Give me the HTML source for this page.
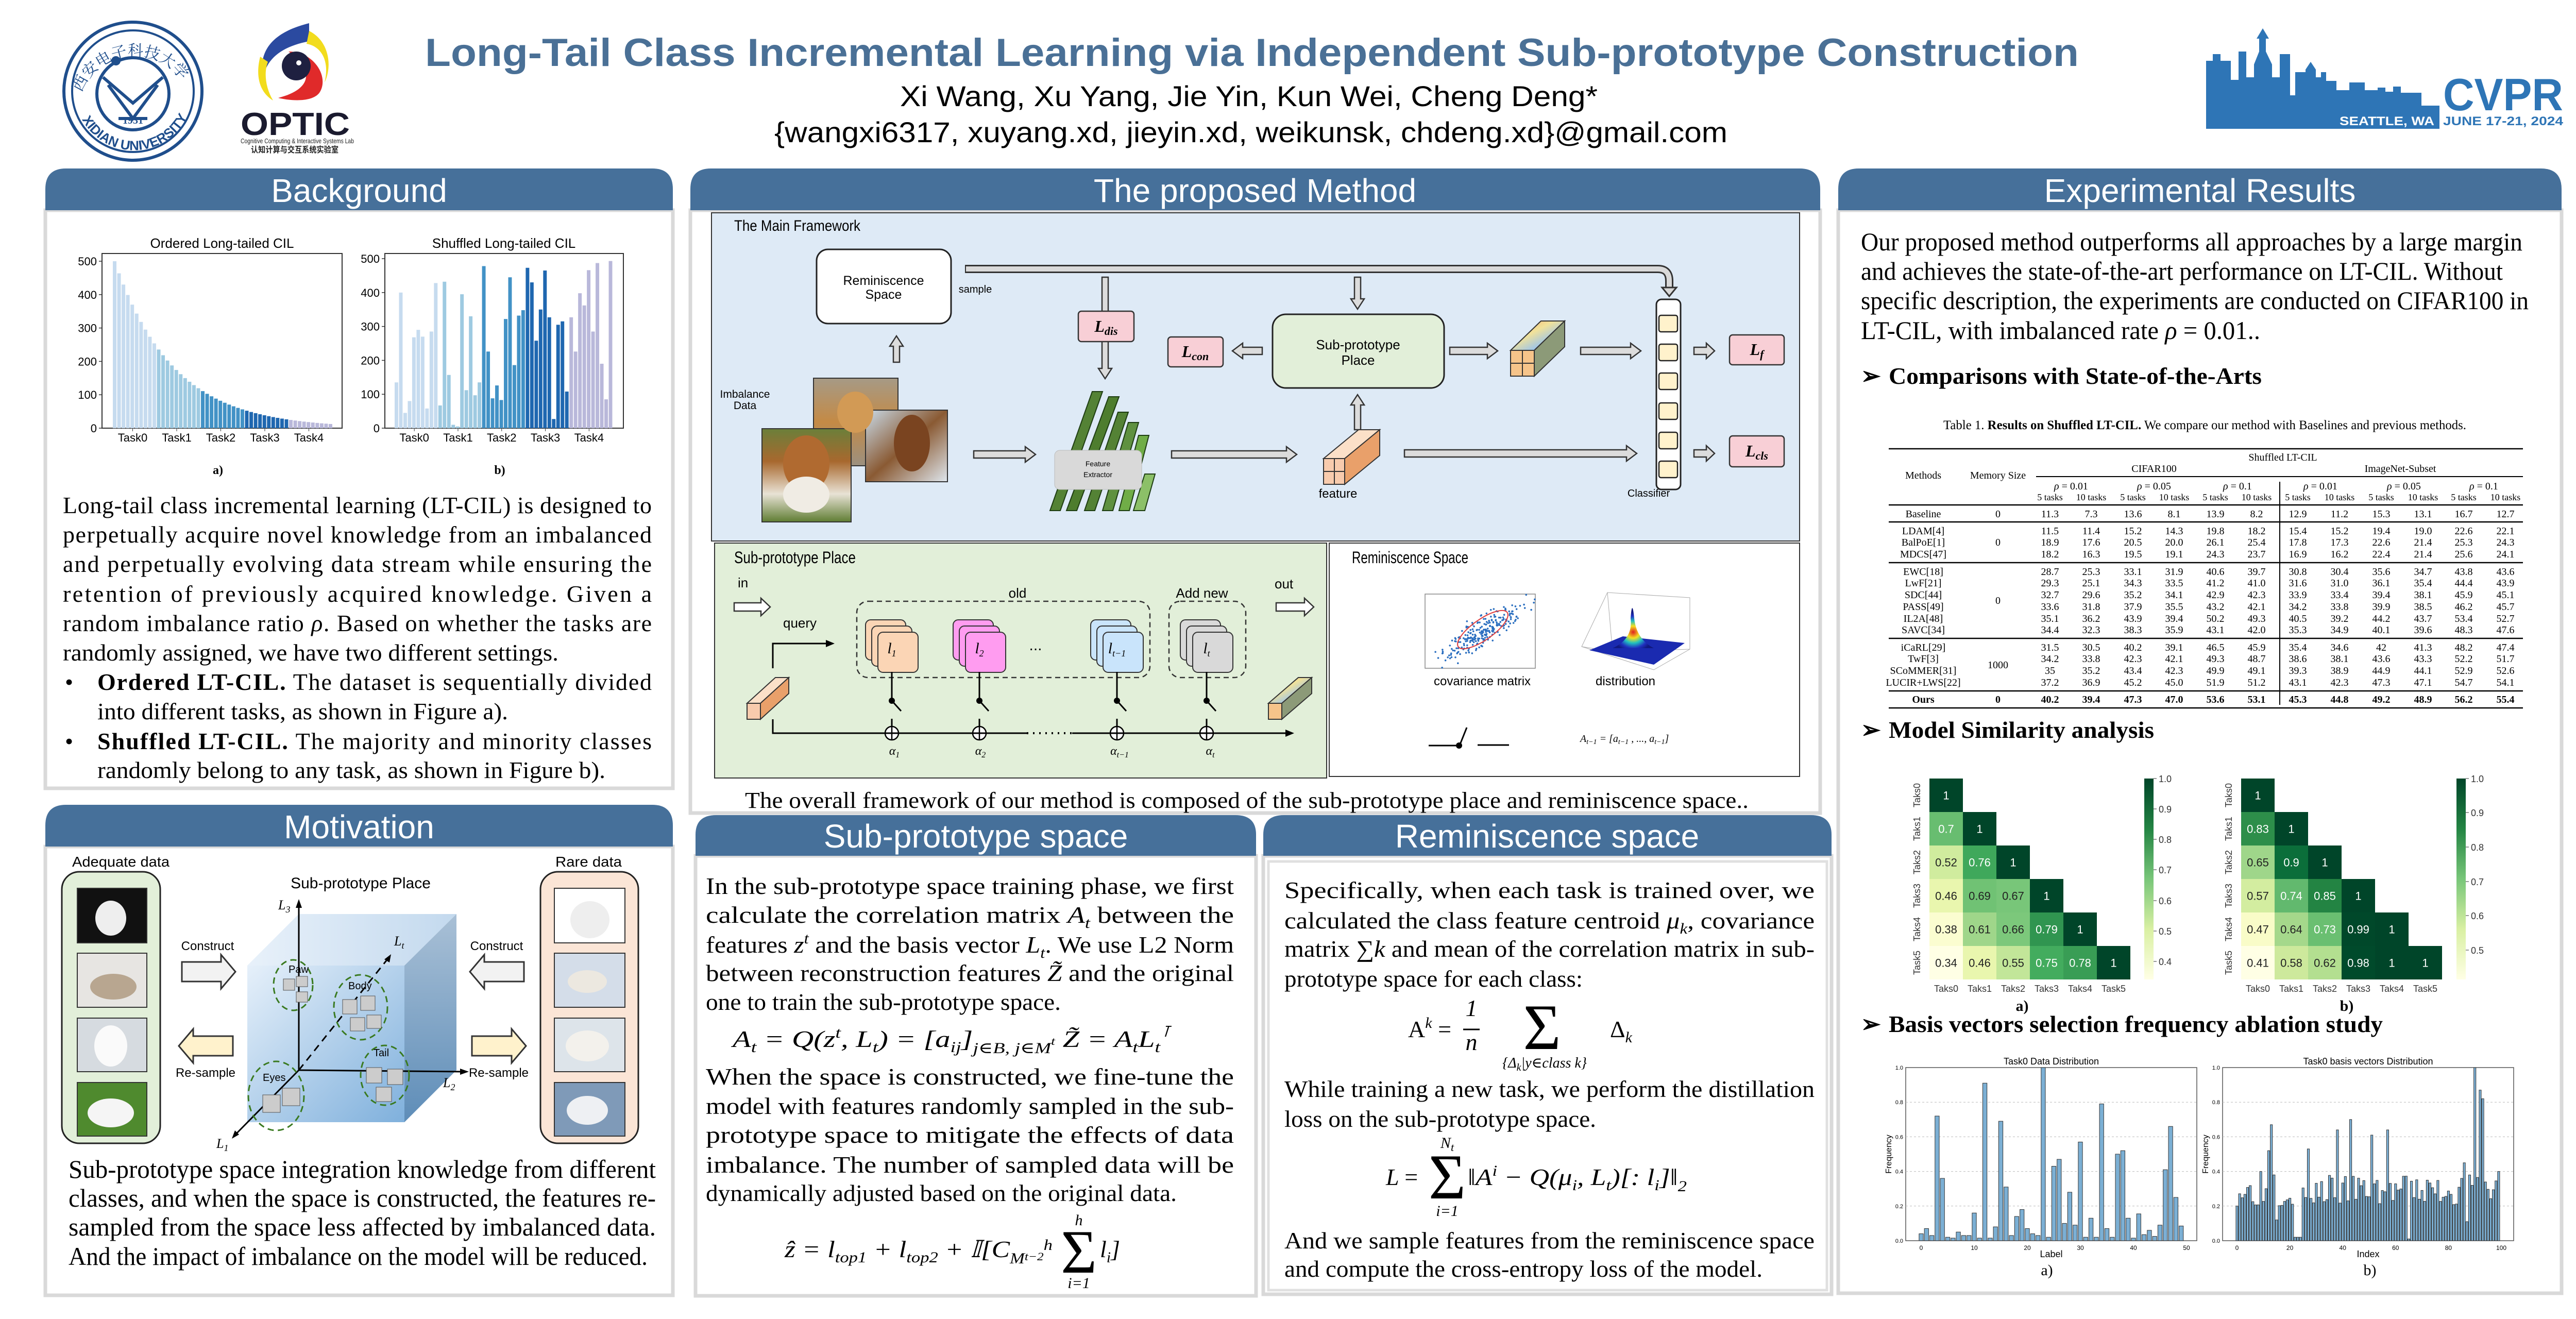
<!DOCTYPE html>
<html><head><meta charset="utf-8"><style>
html,body{margin:0;padding:0;background:#fff;width:5120px;height:2560px;overflow:hidden}
svg{display:block}
.hd{font-family:"Liberation Sans","DejaVu Sans",sans-serif;fill:#fff;font-size:64px;text-anchor:middle}
.tm{font-family:"Liberation Serif","DejaVu Serif",serif;fill:#000}
.sn{font-family:"Liberation Sans","DejaVu Sans",sans-serif;fill:#000}
.it{font-style:italic}
</style></head><body>
<svg id="s" xmlns="http://www.w3.org/2000/svg" width="5120" height="2560" viewBox="0 0 5120 2560">
<defs>
<linearGradient id="cubeF" x1="0" y1="0" x2="1" y2="1"><stop offset="0" stop-color="#e6f0fa"/><stop offset="1" stop-color="#7fb0dc"/></linearGradient>
<linearGradient id="cubeT" x1="0" y1="0" x2="1" y2="0"><stop offset="0" stop-color="#e8f1fa"/><stop offset="1" stop-color="#c3d9ee"/></linearGradient>
<linearGradient id="cubeR" x1="0" y1="0" x2="0" y2="1"><stop offset="0" stop-color="#a9c0d6"/><stop offset="1" stop-color="#5e8db8"/></linearGradient>
<linearGradient id="rainbow" x1="0" y1="0" x2="1" y2="1"><stop offset="0" stop-color="#f4a261"/><stop offset=".4" stop-color="#f1e29a"/><stop offset=".7" stop-color="#9fc5e8"/><stop offset="1" stop-color="#7f8fa6"/></linearGradient>
<linearGradient id="dog1" x1="0" y1="0" x2="0" y2="1"><stop offset="0" stop-color="#a69a86"/><stop offset=".5" stop-color="#c48a45"/><stop offset="1" stop-color="#9b9080"/></linearGradient>
<linearGradient id="horse" x1="0" y1="0" x2="1" y2="1"><stop offset="0" stop-color="#c9dbe9"/><stop offset=".5" stop-color="#8a5a33"/><stop offset="1" stop-color="#dfe7ee"/></linearGradient>
<linearGradient id="beagle" x1="0" y1="0" x2="0" y2="1"><stop offset="0" stop-color="#6b7f3a"/><stop offset=".35" stop-color="#a8682e"/><stop offset=".7" stop-color="#e8e2d5"/><stop offset="1" stop-color="#5f7d32"/></linearGradient>
<radialGradient id="peak" cx=".5" cy=".6" r=".5"><stop offset="0" stop-color="#e02020"/><stop offset=".3" stop-color="#f5e020"/><stop offset=".55" stop-color="#20c0c0"/><stop offset=".8" stop-color="#2030c0"/><stop offset="1" stop-color="#101880"/></radialGradient>
<linearGradient id="cbA" x1="0" y1="1" x2="0" y2="0"><stop offset="0" stop-color="#ffffe5"/><stop offset=".25" stop-color="#d9f0a3"/><stop offset=".5" stop-color="#78c679"/><stop offset=".75" stop-color="#238443"/><stop offset="1" stop-color="#004529"/></linearGradient>
</defs>
<rect width="5120" height="2560" fill="#fff"/>

<!-- Xidian logo -->
<g fill="none" stroke="#1f4e8c">
<circle cx="258" cy="177" r="134" stroke-width="6"/>
<circle cx="258" cy="177" r="118" stroke-width="4"/>
<circle cx="258" cy="182" r="70" stroke-width="6"/>
<path d="M200 150 L258 200 L316 150 M210 165 L258 230 L306 165 M230 230 L286 230" stroke-width="6"/>
</g>
<circle cx="225" cy="118" r="9" fill="#1f4e8c"/>
<text x="258" y="240" font-family="Liberation Serif,serif" font-weight="bold" font-size="20" fill="#1f4e8c" text-anchor="middle">1931</text>
<path id="arcB" d="M150 210 A115 115 0 0 0 370 210" fill="none"/>
<text font-family="Liberation Sans,sans-serif" font-size="26" fill="#1f4e8c" font-weight="bold"><textPath href="#arcB" startOffset="8%">XIDIAN UNIVERSITY</textPath></text>
<path id="arcT" d="M155 190 A110 110 0 0 1 360 170" fill="none"/>
<text font-family="'Noto Serif CJK SC',serif" font-size="30" fill="#1f4e8c"><textPath href="#arcT" startOffset="4%">西安电子科技大学</textPath></text>

<!-- OPTIC logo -->
<path d="M600 45 C540 60 500 90 510 150 C520 110 550 90 600 80 Z" fill="#2b4aa0"/>
<path d="M505 110 C495 150 505 180 530 195 C515 170 512 140 520 120 Z" fill="#f2dc1d"/>
<path d="M560 100 C610 100 640 150 620 180 C605 200 560 195 540 190 C600 175 615 140 560 100Z" fill="#e02a2a"/>
<path d="M600 60 C640 80 645 130 630 160 C640 120 625 90 595 85Z" fill="#f2dc1d"/>
<circle cx="575" cy="128" r="28" fill="#1e2040"/><circle cx="580" cy="122" r="5" fill="#fff"/>
<text x="467" y="262" font-family="Liberation Sans,sans-serif" font-weight="bold" font-size="62" fill="#1a1a2e" textLength="212" lengthAdjust="spacingAndGlyphs">OPTIC</text>
<text x="467" y="278" font-family="Liberation Sans,sans-serif" font-size="13" fill="#222" textLength="220" lengthAdjust="spacingAndGlyphs">Cognitive Computing &amp; Interactive Systems Lab</text>
<text x="487" y="296" font-family="'Noto Sans CJK SC',sans-serif" font-weight="bold" font-size="16" fill="#222" textLength="170" lengthAdjust="spacingAndGlyphs">认知计算与交互系统实验室</text>

<!-- CVPR logo -->
<g fill="#2e75b6">
<path d="M4282 250 V118 H4295 V105 H4310 V118 H4330 V155 H4345 V100 H4360 V150 H4375 V125 L4385 100 V75 H4380 L4392 55 L4404 75 H4398 V100 L4410 125 V150 H4425 V105 H4445 V185 H4455 V140 H4475 V135 L4485 120 L4495 135 V150 H4505 V140 H4515 V157 H4535 V175 H4560 V160 H4590 V175 H4615 V170 H4630 V178 H4645 V168 H4660 V180 H4700 V205 H4735 V250 Z"/>
<text x="4742" y="214" font-family="Liberation Sans,sans-serif" font-weight="bold" font-size="88" textLength="233" lengthAdjust="spacingAndGlyphs">CVPR</text>
<text x="4742" y="243" font-family="Liberation Sans,sans-serif" font-weight="bold" font-size="24" textLength="233" lengthAdjust="spacingAndGlyphs">JUNE 17-21, 2024</text>
</g>
<text x="4541" y="243" font-family="Liberation Sans,sans-serif" font-weight="bold" font-size="24" fill="#fff" textLength="184" lengthAdjust="spacingAndGlyphs">SEATTLE, WA</text>

<!-- Title -->
<text x="2430" y="128" text-anchor="middle" font-family="Liberation Sans,sans-serif" font-weight="bold" font-size="76" fill="#4a7096" textLength="3210" lengthAdjust="spacingAndGlyphs">Long-Tail Class Incremental Learning via Independent Sub-prototype Construction</text>
<text x="2424" y="206" text-anchor="middle" font-family="Liberation Sans,sans-serif" font-size="56" fill="#000" textLength="1354" lengthAdjust="spacingAndGlyphs">Xi Wang, Xu Yang, Jie Yin, Kun Wei, Cheng Deng*</text>
<text x="2428" y="276" text-anchor="middle" font-family="Liberation Sans,sans-serif" font-size="56" fill="#000" textLength="1850" lengthAdjust="spacingAndGlyphs">{wangxi6317, xuyang.xd, jieyin.xd, weikunsk, chdeng.xd}@gmail.com</text>

<!-- Panels -->
<g fill="#fff" stroke="#d9d9d9" stroke-width="7">
<rect x="88" y="408" width="1218" height="1122"/>
<rect x="88" y="1643" width="1218" height="871"/>
<rect x="1340" y="408" width="2193" height="1170"/>
<rect x="1350" y="1661" width="1088" height="854"/>
<rect x="2452" y="1661" width="1103" height="851"/>
<rect x="3568" y="408" width="1404" height="2102"/>
</g>
<rect x="2462" y="1672" width="1084" height="832" fill="none" stroke="#e0e0e0" stroke-width="5"/>
<g fill="#46709a">
<path d="M88 408 V367 Q88 327 128 327 H1266 Q1306 327 1306 367 V408 Z"/>
<path d="M1340 408 V367 Q1340 327 1380 327 H3493 Q3533 327 3533 367 V408 Z"/>
<path d="M3568 408 V367 Q3568 327 3608 327 H4932 Q4972 327 4972 367 V408 Z"/>
<path d="M88 1643 V1602 Q88 1562 128 1562 H1266 Q1306 1562 1306 1602 V1643 Z"/>
<path d="M1350 1661 V1620 Q1350 1582 1390 1582 H2398 Q2438 1582 2438 1620 V1661 Z"/>
<path d="M2452 1661 V1620 Q2452 1582 2492 1582 H3515 Q3555 1582 3555 1620 V1661 Z"/>
</g>
<text class="hd" x="697" y="392">Background</text>
<text class="hd" x="2436" y="392">The proposed Method</text>
<text class="hd" x="4270" y="392">Experimental Results</text>
<text class="hd" x="697" y="1627">Motivation</text>
<text class="hd" x="1894" y="1645">Sub-prototype space</text>
<text class="hd" x="3003" y="1645">Reminiscence space</text>

<!-- Background charts -->
<g class="sn" font-size="26">
<text x="431" y="481" text-anchor="middle">Ordered Long-tailed CIL</text>
<text x="978" y="481" text-anchor="middle">Shuffled Long-tailed CIL</text>
</g>
<rect x="198" y="492" width="466" height="339" fill="none" stroke="#333" stroke-width="2"/>
<rect x="747" y="492" width="463" height="339" fill="none" stroke="#333" stroke-width="2"/>
<g id="bgc"></g>
<text class="tm" x="423" y="920" font-weight="bold" font-size="24" text-anchor="middle">a)</text>
<text class="tm" x="970" y="920" font-weight="bold" font-size="24" text-anchor="middle">b)</text>

<g class="tm" font-size="46">
<text x="122" y="996" textLength="1143" lengthAdjust="spacing">Long-tail class incremental learning (LT-CIL) is designed to</text>
<text x="122" y="1053" textLength="1143" lengthAdjust="spacing">perpetually acquire novel knowledge from an imbalanced</text>
<text x="122" y="1110" textLength="1143" lengthAdjust="spacing">and perpetually evolving data stream while ensuring the</text>
<text x="122" y="1168" textLength="1143" lengthAdjust="spacing">retention of previously acquired knowledge. Given a</text>
<text x="122" y="1225" textLength="1143" lengthAdjust="spacing">random imbalance ratio <tspan class="it">ρ</tspan>. Based on whether the tasks are</text>
<text x="122" y="1282" textLength="962" lengthAdjust="spacingAndGlyphs">randomly assigned, we have two different settings.</text>
<text x="126" y="1339">•</text><text x="189" y="1339" textLength="1076" lengthAdjust="spacing"><tspan font-weight="bold">Ordered LT-CIL.</tspan> The dataset is sequentially divided</text>
<text x="189" y="1396" textLength="797" lengthAdjust="spacingAndGlyphs">into different tasks, as shown in Figure a).</text>
<text x="126" y="1454">•</text><text x="189" y="1454" textLength="1076" lengthAdjust="spacing"><tspan font-weight="bold">Shuffled LT-CIL.</tspan>  The majority and minority classes</text>
<text x="189" y="1510" textLength="986" lengthAdjust="spacingAndGlyphs">randomly belong to any task, as shown in Figure b).</text>
</g>

<!-- Motivation -->
<g font-family="Liberation Sans,sans-serif" font-size="28" fill="#000">
<text x="140" y="1682" textLength="189" lengthAdjust="spacingAndGlyphs">Adequate data</text>
<text x="1078" y="1682" textLength="129" lengthAdjust="spacingAndGlyphs">Rare data</text>
<text x="700" y="1724" text-anchor="middle" font-size="30">Sub-prototype Place</text>
<text x="403" y="1844" text-anchor="middle" font-size="24">Construct</text>
<text x="964" y="1844" text-anchor="middle" font-size="24">Construct</text>
<text x="399" y="2090" text-anchor="middle" font-size="24">Re-sample</text>
<text x="968" y="2090" text-anchor="middle" font-size="24">Re-sample</text>
</g>
<rect x="120" y="1692" width="191" height="527" rx="34" fill="#e2efd9" stroke="#222" stroke-width="3"/>
<rect x="1049" y="1692" width="190" height="527" rx="34" fill="#fbe5d6" stroke="#222" stroke-width="3"/>
<rect x="150" y="1724" width="135" height="106" fill="#111" stroke="#333" stroke-width="2"/><ellipse cx="215" cy="1782" rx="30" ry="34" fill="#eee"/>
<rect x="150" y="1850" width="135" height="105" fill="#e7e5e2" stroke="#333" stroke-width="2"/><ellipse cx="220" cy="1915" rx="45" ry="25" fill="#b8a690"/>
<rect x="150" y="1976" width="135" height="104" fill="#d6dbe0" stroke="#333" stroke-width="2"/><ellipse cx="215" cy="2030" rx="32" ry="40" fill="#fafafa"/>
<rect x="150" y="2101" width="135" height="104" fill="#4f8a2e" stroke="#333" stroke-width="2"/><ellipse cx="215" cy="2160" rx="45" ry="28" fill="#f5f5f5"/>
<rect x="1076" y="1724" width="137" height="106" fill="#fff" stroke="#333" stroke-width="2"/><ellipse cx="1145" cy="1785" rx="38" ry="36" fill="#eee"/>
<rect x="1076" y="1850" width="137" height="105" fill="#d4dde9" stroke="#333" stroke-width="2"/><ellipse cx="1140" cy="1905" rx="38" ry="22" fill="#ece8e0"/>
<rect x="1076" y="1976" width="137" height="104" fill="#dde4ea" stroke="#333" stroke-width="2"/><ellipse cx="1140" cy="2030" rx="42" ry="30" fill="#f3f1ec"/>
<rect x="1076" y="2101" width="137" height="104" fill="#7f9ab8" stroke="#333" stroke-width="2"/><ellipse cx="1140" cy="2155" rx="40" ry="28" fill="#eef0f3"/>
<!-- cube -->
<polygon points="480,1874 580,1774 886,1774 785,1874" fill="url(#cubeT)"/>
<polygon points="785,1874 886,1774 886,2077 785,2178" fill="url(#cubeR)"/>
<rect x="480" y="1874" width="305" height="304" fill="url(#cubeF)"/>
<g stroke="#000" stroke-width="3" fill="none">
<line x1="580" y1="2077" x2="580" y2="1755"/><line x1="580" y1="2077" x2="900" y2="2080"/><line x1="580" y1="2077" x2="456" y2="2203"/>
<line x1="580" y1="2077" x2="755" y2="1858" stroke-dasharray="14,10"/>
</g>
<g fill="#000"><polygon points="580,1745 574,1762 586,1762"/><polygon points="910,2080 893,2074 893,2086"/><polygon points="450,2210 456,2194 464,2202"/><polygon points="759,1852 746,1862 756,1868"/></g>
<g class="tm it" font-size="26"><text x="540" y="1765">L<tspan font-size="18" dy="6">3</tspan></text><text x="765" y="1835">L<tspan font-size="18" dy="6">t</tspan></text><text x="860" y="2110">L<tspan font-size="18" dy="6">2</tspan></text><text x="420" y="2228">L<tspan font-size="18" dy="6">1</tspan></text></g>
<g fill="none" stroke="#3a7a20" stroke-width="3" stroke-dasharray="12,8">
<ellipse cx="569" cy="1912" rx="38" ry="49"/><ellipse cx="700" cy="1955" rx="52" ry="63"/><ellipse cx="536" cy="2127" rx="54" ry="67"/><ellipse cx="747" cy="2087" rx="47" ry="58"/>
</g>
<g fill="#ccc" stroke="#555"><rect x="550" y="1900" width="22" height="22"/><rect x="575" y="1895" width="22" height="20"/><rect x="575" y="1925" width="22" height="20"/><rect x="665" y="1940" width="28" height="28"/><rect x="700" y="1933" width="28" height="28"/><rect x="680" y="1975" width="28" height="26"/><rect x="712" y="1970" width="28" height="26"/><rect x="510" y="2125" width="34" height="34"/><rect x="548" y="2112" width="34" height="34"/><rect x="711" y="2072" width="30" height="30"/><rect x="752" y="2075" width="30" height="30"/><rect x="730" y="2110" width="30" height="28"/></g>
<g font-family="Liberation Sans,sans-serif" font-size="20" fill="#000"><text x="560" y="1888">Paw</text><text x="676" y="1920">Body</text><text x="510" y="2098">Eyes</text><text x="725" y="2050">Tail</text></g>
<g id="motarrows"></g>
<g class="tm" font-size="50">
<text x="133" y="2286" textLength="1140" lengthAdjust="spacingAndGlyphs">Sub-prototype space integration knowledge from different</text>
<text x="133" y="2342" textLength="1140" lengthAdjust="spacingAndGlyphs">classes, and when the space is constructed, the features re-</text>
<text x="133" y="2398" textLength="1140" lengthAdjust="spacingAndGlyphs">sampled from the space less affected by imbalanced data.</text>
<text x="133" y="2455" textLength="1124" lengthAdjust="spacingAndGlyphs">And the impact of imbalance on the model will be reduced.</text>
</g>

<!-- Method: main framework -->
<rect x="1381" y="413" width="2112" height="637" fill="#deeaf6" stroke="#333" stroke-width="2"/>
<rect x="1387" y="1054" width="1188" height="456" fill="#e2efd9" stroke="#333" stroke-width="2"/>
<rect x="2580" y="1054" width="913" height="453" fill="#fff" stroke="#333" stroke-width="2"/>
<g font-family="Liberation Sans,sans-serif" fill="#000">
<text x="1425" y="448" font-size="30" textLength="245" lengthAdjust="spacingAndGlyphs">The Main Framework</text>
<text x="1425" y="1093" font-size="32" textLength="236" lengthAdjust="spacingAndGlyphs">Sub-prototype Place</text>
<text x="2624" y="1093" font-size="32" textLength="226" lengthAdjust="spacingAndGlyphs">Reminiscence Space</text>
</g>
<g id="fwarrows"></g>
<rect x="1585" y="484" width="261" height="144" rx="22" fill="#fff" stroke="#222" stroke-width="3"/>
<rect x="2470" y="610" width="333" height="143" rx="26" fill="#e2efd9" stroke="#222" stroke-width="3"/>
<g font-family="Liberation Sans,sans-serif" font-size="25" fill="#000" text-anchor="middle">
<text x="1715" y="553">Reminiscence</text><text x="1715" y="580">Space</text>
<text x="1893" y="568" font-size="20">sample</text>
<text x="1446" y="772" font-size="21">Imbalance</text><text x="1446" y="794" font-size="21">Data</text>
<text x="2636" y="678" font-size="26">Sub-prototype</text><text x="2636" y="708" font-size="26">Place</text>
<text x="2597" y="966" font-size="24">feature</text>
<text x="3200" y="964" font-size="20">Classifier</text>
</g>
<!-- top bent arrow -->
<path d="M1873 522 H3218 Q3240 522 3240 545 V560" fill="none" stroke="#333" stroke-width="16"/>
<path d="M1875 522 H3218 Q3240 522 3240 545 V562" fill="none" stroke="#d9d9d9" stroke-width="10"/>
<polygon points="3226,558 3254,558 3240,575" fill="#d9d9d9" stroke="#333" stroke-width="3"/>
<!-- loss boxes -->
<g fill="#f8cfd6" stroke="#333" stroke-width="2.5">
<rect x="2093" y="604" width="108" height="59" rx="6"/><rect x="2267" y="654" width="107" height="58" rx="6"/>
<rect x="3357" y="650" width="106" height="58" rx="6"/><rect x="3357" y="846" width="106" height="60" rx="6"/>
</g>
<g class="tm it" font-size="32" text-anchor="middle" font-weight="bold">
<text x="2147" y="644">L<tspan font-size="22" dy="6">dis</tspan></text>
<text x="2320" y="693">L<tspan font-size="22" dy="6">con</tspan></text>
<text x="3410" y="689">L<tspan font-size="22" dy="6">f</tspan></text>
<text x="3410" y="886">L<tspan font-size="22" dy="6">cls</tspan></text>
</g>
<!-- classifier -->
<rect x="3215" y="581" width="47" height="369" rx="10" fill="#fff" stroke="#222" stroke-width="3"/>
<g fill="#fff2cc" stroke="#222" stroke-width="2.5"><rect x="3220" y="612" width="36" height="32" rx="4"/><rect x="3220" y="668" width="36" height="32" rx="4"/><rect x="3220" y="724" width="36" height="32" rx="4"/><rect x="3220" y="782" width="36" height="32" rx="4"/><rect x="3220" y="839" width="36" height="32" rx="4"/><rect x="3220" y="895" width="36" height="32" rx="4"/></g>
<!-- images -->
<rect x="1579" y="734" width="164" height="170" fill="url(#dog1)" stroke="#333" stroke-width="2"/>
<rect x="1680" y="796" width="159" height="139" fill="url(#horse)" stroke="#333" stroke-width="2"/>
<rect x="1479" y="832" width="173" height="181" fill="url(#beagle)" stroke="#333" stroke-width="2"/>
<ellipse cx="1565" cy="900" rx="45" ry="55" fill="#b06a30"/><ellipse cx="1565" cy="960" rx="45" ry="35" fill="#f0ece4"/>
<ellipse cx="1660" cy="800" rx="35" ry="40" fill="#d29a55"/>
<ellipse cx="1770" cy="860" rx="35" ry="55" fill="#7a4420"/>
<!-- feature extractor -->
<g stroke="#1e3d12" stroke-width="2">
<polygon points="2038,991 2058,991 2140,760 2120,760" fill="#548235"/>
<polygon points="2070,991 2090,991 2172,770 2152,770" fill="#4e7d2e"/>
<polygon points="2105,991 2125,991 2190,800 2170,800" fill="#548235"/>
<polygon points="2140,991 2160,991 2210,820 2190,820" fill="#5f9140"/>
<polygon points="2172,991 2192,991 2230,845 2210,845" fill="#70ad47"/>
<polygon points="2200,991 2222,991 2242,920 2222,920" fill="#8cc068"/>
</g>
<rect x="2047" y="874" width="169" height="76" rx="10" fill="#d9d9d9" stroke="#bbb"/>
<text x="2131" y="905" font-family="Liberation Sans,sans-serif" font-size="14" text-anchor="middle">Feature</text>
<text x="2131" y="926" font-family="Liberation Sans,sans-serif" font-size="14" text-anchor="middle">Extractor</text>
<!-- feature cube -->
<g stroke="#333" stroke-width="2">
<polygon points="2569,890 2610,890 2678,834 2637,834" fill="#fbe0c8"/>
<polygon points="2610,890 2678,834 2678,884 2610,940" fill="#e9a06a"/>
<rect x="2569" y="890" width="41" height="50" fill="#f8cbad"/>
<line x1="2569" y1="915" x2="2610" y2="915"/><line x1="2590" y1="890" x2="2590" y2="940"/>
<polygon points="2932,680 2978,680 3037,623 2991,623" fill="url(#rainbow)"/>
<polygon points="2978,680 3037,623 3037,673 2978,730" fill="#8c9a78"/>
<rect x="2932" y="680" width="46" height="50" fill="#f6c48a"/>
<line x1="2932" y1="705" x2="2978" y2="705"/><line x1="2955" y1="680" x2="2955" y2="730"/>
</g>

<!-- Sub-prototype place detail -->
<g font-family="Liberation Sans,sans-serif" font-size="26" fill="#000">
<text x="1432" y="1140">in</text><text x="1520" y="1218">query</text>
<text x="1975" y="1160" text-anchor="middle">old</text><text x="2333" y="1160" text-anchor="middle">Add new</text>
<text x="2474" y="1142">out</text><text x="2010" y="1262" font-size="30" text-anchor="middle">...</text>
</g>
<rect x="1663" y="1167" width="569" height="148" rx="22" fill="none" stroke="#333" stroke-width="2.5" stroke-dasharray="10,7"/>
<rect x="2269" y="1167" width="149" height="148" rx="22" fill="none" stroke="#333" stroke-width="2.5" stroke-dasharray="10,7"/>
<g id="cards"></g>
<g stroke="#000" stroke-width="3" fill="none">
<polyline points="1500,1396 1500,1423 2500,1423"/>
<polyline points="1500,1297 1500,1249 1605,1249"/>
</g>
<polygon points="1620,1249 1603,1242 1603,1256" fill="#000"/><polygon points="2512,1423 2495,1416 2495,1430" fill="#000"/>
<line x1="1993" y1="1423" x2="2081" y2="1423" stroke="#e2efd9" stroke-width="6"/>
<line x1="1993" y1="1423" x2="2081" y2="1423" stroke="#000" stroke-width="4" stroke-dasharray="3,9"/>
<g stroke="#333" stroke-width="2"><polygon points="1450,1365 1476,1365 1531,1315 1505,1315" fill="#fbe0c8"/><polygon points="1476,1365 1531,1315 1531,1346 1476,1396" fill="#e9a06a"/><rect x="1450" y="1365" width="26" height="31" fill="#f8cbad"/>
<polygon points="2462,1365 2488,1365 2546,1315 2520,1315" fill="url(#rainbow)"/><polygon points="2488,1365 2546,1315 2546,1346 2488,1396" fill="#8c9a78"/><rect x="2462" y="1365" width="26" height="31" fill="#f6c48a"/></g>
<g class="tm it" font-size="24" text-anchor="middle"><text x="1736" y="1465">α<tspan font-size="16" dy="5">1</tspan></text><text x="1903" y="1465">α<tspan font-size="16" dy="5">2</tspan></text><text x="2173" y="1465">α<tspan font-size="16" dy="5">t−1</tspan></text><text x="2349" y="1465">α<tspan font-size="16" dy="5">t</tspan></text></g>

<!-- Reminiscence detail -->
<rect x="2766" y="1153" width="214" height="144" fill="#fff" stroke="#888" stroke-width="1.5"/>
<g id="scat"></g>
<ellipse cx="2878" cy="1222" rx="58" ry="20" transform="rotate(-35 2878 1222)" fill="none" stroke="#e04040" stroke-width="2"/>
<g stroke="#aaa" stroke-width="1" fill="none"><polygon points="3070,1255 3120,1150 3280,1160 3280,1260 3210,1300"/><line x1="3120" y1="1150" x2="3130" y2="1265"/><line x1="3130" y1="1265" x2="3280" y2="1260"/><line x1="3130" y1="1265" x2="3070" y2="1255"/></g>
<polygon points="3085,1262 3150,1235 3270,1248 3210,1290" fill="#1a2ab0"/>
<path d="M3130 1258 Q3170 1240 3165 1200 Q3168 1160 3172 1200 Q3176 1240 3210 1258 Z" fill="url(#peak)"/>
<g font-family="Liberation Sans,sans-serif" font-size="24" fill="#000" text-anchor="middle"><text x="2877" y="1330">covariance matrix</text><text x="3155" y="1330">distribution</text></g>
<g stroke="#000" stroke-width="3"><line x1="2773" y1="1447" x2="2830" y2="1447"/><line x1="2833" y1="1447" x2="2847" y2="1412"/><line x1="2868" y1="1446" x2="2929" y2="1446"/></g><circle cx="2832" cy="1447" r="6" fill="#000"/>
<text x="3067" y="1440" class="tm it" font-size="20">A<tspan font-size="14" dy="4">t−1</tspan><tspan dy="-4"> = [a</tspan><tspan font-size="14" dy="4">t−1</tspan><tspan dy="-4"> , ..., a</tspan><tspan font-size="14" dy="4">t−1</tspan><tspan dy="-4">]</tspan></text>

<text class="tm" x="1446" y="1568" font-size="44" textLength="1948" lengthAdjust="spacingAndGlyphs">The overall framework of our method is composed of the sub-prototype place and reminiscence space..</text>

<!-- Sub-prototype space text -->
<g class="tm" font-size="46">
<text x="1370" y="1735" textLength="1025" lengthAdjust="spacingAndGlyphs">In the sub-prototype space training phase, we first</text>
<text x="1370" y="1791" textLength="1025" lengthAdjust="spacingAndGlyphs">calculate the correlation matrix <tspan class="it">A</tspan><tspan class="it" font-size="30" dy="10">t</tspan><tspan dy="-10"> between the</tspan></text>
<text x="1370" y="1849" textLength="1025" lengthAdjust="spacingAndGlyphs">features <tspan class="it">z</tspan><tspan class="it" font-size="30" dy="-18">t</tspan><tspan dy="18"> and the basis vector </tspan><tspan class="it">L</tspan><tspan class="it" font-size="30" dy="10">t</tspan><tspan dy="-10">. We use L2 Norm</tspan></text>
<text x="1370" y="1904" textLength="1025" lengthAdjust="spacingAndGlyphs">between reconstruction features <tspan class="it">Z̃</tspan> and the original</text>
<text x="1370" y="1960" textLength="689" lengthAdjust="spacingAndGlyphs">one to train the sub-prototype space.</text>
<text x="1422" y="2032" class="it" textLength="850" lengthAdjust="spacingAndGlyphs">A<tspan font-size="30" dy="10">t</tspan><tspan dy="-10"> = Q(z</tspan><tspan font-size="30" dy="-18">t</tspan><tspan dy="18">, L</tspan><tspan font-size="30" dy="10">t</tspan><tspan dy="-10">) = [a</tspan><tspan font-size="30" dy="10">ij</tspan><tspan dy="-10">]</tspan><tspan font-size="30" dy="12">j∈B, j∈M</tspan><tspan font-size="22" dy="-16">t</tspan><tspan dy="4">    Z̃ = A</tspan><tspan font-size="30" dy="10">t</tspan><tspan dy="-10">L</tspan><tspan font-size="30" dy="10">t</tspan><tspan font-size="30" dy="-30">⊺</tspan></text>
<text x="1370" y="2105" textLength="1025" lengthAdjust="spacingAndGlyphs">When the space is constructed, we fine-tune the</text>
<text x="1370" y="2162" textLength="1025" lengthAdjust="spacingAndGlyphs">model with features randomly sampled in the sub-</text>
<text x="1370" y="2218" textLength="1025" lengthAdjust="spacingAndGlyphs">prototype space to mitigate the effects of data</text>
<text x="1370" y="2276" textLength="1025" lengthAdjust="spacingAndGlyphs">imbalance. The number of sampled data will be</text>
<text x="1370" y="2331" textLength="914" lengthAdjust="spacingAndGlyphs">dynamically adjusted based on the original data.</text>
<text x="1523" y="2440" class="it" textLength="520" lengthAdjust="spacingAndGlyphs">ẑ = l<tspan font-size="30" dy="10">top1</tspan><tspan dy="-10"> + l</tspan><tspan font-size="30" dy="10">top2</tspan><tspan dy="-10"> + 𝕀[C</tspan><tspan font-size="30" dy="12">M</tspan><tspan font-size="22" dy="-6">t−2</tspan><tspan font-size="30" dy="-20">h</tspan></text>
<text x="2094" y="2470" font-size="120" text-anchor="middle">Σ</text>
<text x="2094" y="2378" class="it" font-size="30" text-anchor="middle">h</text>
<text x="2094" y="2500" class="it" font-size="30" text-anchor="middle">i=1</text>
<text x="2135" y="2440" class="it">l<tspan font-size="30" dy="10">i</tspan><tspan dy="-10">]</tspan></text>
</g>

<!-- Reminiscence text -->
<g class="tm" font-size="46">
<text x="2493" y="1743" textLength="1029" lengthAdjust="spacingAndGlyphs">Specifically, when each task is trained over, we</text>
<text x="2493" y="1802" textLength="1029" lengthAdjust="spacingAndGlyphs">calculated the class feature centroid <tspan class="it">μ</tspan><tspan class="it" font-size="30" dy="10">k</tspan><tspan dy="-10">, covariance</tspan></text>
<text x="2493" y="1857" textLength="1029" lengthAdjust="spacingAndGlyphs">matrix ∑<tspan class="it">k</tspan> and mean of the correlation matrix in sub-</text>
<text x="2493" y="1915" textLength="579" lengthAdjust="spacingAndGlyphs">prototype space for each class:</text>
<text x="2733" y="2013">A<tspan font-size="30" dy="-18" class="it">k</tspan><tspan dy="18"> =</tspan></text>
<text x="2856" y="1972" class="it" text-anchor="middle">1</text>
<line x1="2840" y1="1998" x2="2872" y2="1998" stroke="#000" stroke-width="3"/>
<text x="2856" y="2038" class="it" text-anchor="middle">n</text>
<text x="2993" y="2036" font-size="126" text-anchor="middle">Σ</text>
<text x="2998" y="2072" class="it" font-size="28" text-anchor="middle">{Δ<tspan font-size="20" dy="6">k</tspan><tspan dy="-6">|y∈class k}</tspan></text>
<text x="3125" y="2013">Δ<tspan class="it" font-size="30" dy="10">k</tspan></text>
<text x="2493" y="2129" textLength="1029" lengthAdjust="spacingAndGlyphs">While training a new task, we perform the distillation</text>
<text x="2493" y="2187" textLength="605" lengthAdjust="spacingAndGlyphs">loss on the sub-prototype space.</text>
<text x="2690" y="2300" class="it">L <tspan font-style="normal">=</tspan></text>
<text x="2809" y="2326" font-size="124" text-anchor="middle">Σ</text>
<text x="2809" y="2228" class="it" font-size="30" text-anchor="middle">N<tspan font-size="22" dy="6">t</tspan></text>
<text x="2809" y="2360" class="it" font-size="30" text-anchor="middle">i=1</text>
<text x="2849" y="2300" class="it" textLength="425" lengthAdjust="spacingAndGlyphs">‖A<tspan font-size="30" dy="-18">i</tspan><tspan dy="18"> − Q(μ</tspan><tspan font-size="30" dy="10">i</tspan><tspan dy="-10">, L</tspan><tspan font-size="30" dy="10">t</tspan><tspan dy="-10">)[: l</tspan><tspan font-size="30" dy="10">i</tspan><tspan dy="-10">]‖</tspan><tspan font-size="30" dy="12">2</tspan></text>
<text x="2493" y="2423" textLength="1029" lengthAdjust="spacingAndGlyphs">And we sample features from the reminiscence space</text>
<text x="2493" y="2478" textLength="928" lengthAdjust="spacingAndGlyphs">and compute the cross-entropy loss of the model.</text>
</g>

<!-- Results -->
<g class="tm" font-size="50">
<text x="3612" y="486" textLength="1284" lengthAdjust="spacingAndGlyphs">Our proposed method outperforms all approaches by a large margin</text>
<text x="3612" y="543" textLength="1246" lengthAdjust="spacingAndGlyphs">and achieves the state-of-the-art performance on LT-CIL. Without</text>
<text x="3612" y="600" textLength="1296" lengthAdjust="spacingAndGlyphs">specific description, the experiments are conducted on CIFAR100 in</text>
<text x="3612" y="658" textLength="775" lengthAdjust="spacingAndGlyphs">LT-CIL, with imbalanced rate <tspan class="it">ρ</tspan> = 0.01..</text>
<g font-weight="bold" font-size="46">
<text x="3612" y="745">➢</text><text x="3666" y="745" textLength="724" lengthAdjust="spacingAndGlyphs">Comparisons with State-of-the-Arts</text>
<text x="3612" y="1432">➢</text><text x="3666" y="1432" textLength="515" lengthAdjust="spacingAndGlyphs">Model Similarity analysis</text>
<text x="3612" y="2003">➢</text><text x="3666" y="2003" textLength="959" lengthAdjust="spacingAndGlyphs">Basis vectors selection frequency ablation study</text>
</g>
</g>
<text class="tm" x="3772" y="833" font-size="25" textLength="1015" lengthAdjust="spacingAndGlyphs">Table 1. <tspan font-weight="bold">Results on Shuffled LT-CIL.</tspan> We compare our method with Baselines and previous methods.</text>
<g id="tbl" class="tm" font-size="20"></g>
<g id="heat"></g>
<g id="freq"></g>
</svg>
<script>
const S=document.getElementById('s'),NS='http://www.w3.org/2000/svg';
function el(p,t,a,txt){const e=document.createElementNS(NS,t);for(const k in a)e.setAttribute(k,a[k]);if(txt!=null)e.textContent=txt;(p||S).appendChild(e);return e;}
function G(id){return document.getElementById(id);}
function harrow(p,x1,x2,y,sh,hh,hl,fill,sw){const d=x2>x1?1:-1,xb=x2-d*hl;const pts=[[x1,y-sh/2],[xb,y-sh/2],[xb,y-hh/2],[x2,y],[xb,y+hh/2],[xb,y+sh/2],[x1,y+sh/2]];el(p,'polygon',{points:pts.map(q=>q.join(',')).join(' '),fill:fill,stroke:'#333','stroke-width':sw||2.5});}
function varrow(p,x,y1,y2,sh,hh,hl,fill,sw){const d=y2>y1?1:-1,yb=y2-d*hl;const pts=[[x-sh/2,y1],[x-sh/2,yb],[x-hh/2,yb],[x,y2],[x+hh/2,yb],[x+sh/2,yb],[x+sh/2,y1]];el(p,'polygon',{points:pts.map(q=>q.join(',')).join(' '),fill:fill,stroke:'#333','stroke-width':sw||2.5});}
const fa=G('fwarrows'),gr='#dcdcdc';
varrow(fa,2145,538,735,12,26,20,gr);varrow(fa,2635,538,600,12,26,20,gr);varrow(fa,2635,834,766,12,26,20,gr);varrow(fa,1740,703,652,12,26,20,gr);
harrow(fa,2450,2392,681,14,30,20,gr);harrow(fa,2814,2907,681,14,30,20,gr);harrow(fa,3068,3185,681,14,30,20,gr);
harrow(fa,3288,3328,681,14,30,16,gr);harrow(fa,3288,3328,880,14,30,16,gr);
harrow(fa,1890,2010,882,14,30,20,gr);harrow(fa,2274,2517,882,14,30,20,gr);harrow(fa,2726,3177,880,14,30,20,gr);
harrow(fa,1425,1495,1178,16,34,18,'#fff');harrow(fa,2477,2550,1178,16,34,18,'#fff');
const ma=G('motarrows');
harrow(ma,353,457,1886,38,66,28,'#f2f2f2',3);harrow(ma,1017,912,1886,38,66,28,'#f2f2f2',3);
harrow(ma,452,347,2030,38,66,28,'#fff2cc',3);harrow(ma,916,1021,2030,38,66,28,'#fff2cc',3);
const cd=G('cards');const cards=[[1680,'#fbd5b5','l','1'],[1850,'#ff9cf0','l','2'],[2117,'#c9e4fb','l','t−1'],[2291,'#d9d9d9','l','t']];
cards.forEach(c=>{for(let k=0;k<3;k++){el(cd,'rect',{x:c[0]+k*12,y:1203+k*12,width:78,height:78,rx:10,fill:c[1],stroke:'#333','stroke-width':2});}
const cx=c[0]+51;const t=el(cd,'text',{x:cx,y:1268,'text-anchor':'middle','font-family':'Liberation Serif,serif','font-style':'italic','font-size':30},'l');el(t,'tspan',{'font-size':18,dy:6},c[3]);
el(cd,'line',{x1:cx,y1:1304,x2:cx,y2:1360,stroke:'#000','stroke-width':3});el(cd,'circle',{cx:cx,cy:1360,r:6,fill:'#000'});el(cd,'line',{x1:cx,y1:1360,x2:cx+18,y2:1380,stroke:'#000','stroke-width':3});
el(cd,'line',{x1:cx,y1:1395,x2:cx,y2:1423,stroke:'#000','stroke-width':3});
el(cd,'circle',{cx:cx,cy:1423,r:13,fill:'#fff',stroke:'#000','stroke-width':2.5});el(cd,'path',{d:`M${cx-13} 1423H${cx+13}M${cx} 1410V1436`,stroke:'#000','stroke-width':2.5});});
let seed=7;function rnd(){seed=(seed*16807)%2147483647;return seed/2147483647;}
function gauss(){return (rnd()+rnd()+rnd()+rnd()-2)/0.58;}
const sc=G('scat');for(let i=0;i<260;i++){const a=gauss(),b=gauss()*0.35;const x=2878+a*34+b*18,y=1225-a*22+b*26;el(sc,'circle',{cx:x,cy:y,r:1.8,fill:'#2b6fc0'});}
const bg=G('bgc');const tcol=['#c6dbef','#9ecae1','#4292c6','#1f67b0','#b9b8da'];
function axis(x0,y0,y5){for(let v=0;v<=500;v+=100){const y=y0-(y0-y5)*v/500;el(bg,'line',{x1:x0-6,y1:y,x2:x0,y2:y,stroke:'#333','stroke-width':1.5});el(bg,'text',{x:x0-10,y:y+8,'text-anchor':'end','font-family':'Liberation Sans,sans-serif','font-size':22},v);}}
axis(198,831,507);axis(747,831,502);
const ord=[];for(let i=0;i<50;i++)ord.push(500*Math.pow(0.025,i/49));
const shf=[135,400,45,80,268,290,270,58,285,428,67,432,157,10,5,395,112,330,97,135,478,226,88,126,83,322,445,186,332,348,473,430,258,350,465,327,27,305,315,108,327,226,398,362,466,285,487,190,85,493];
function bars(x0,step,y0,y5,vals){vals.forEach((v,i)=>{const h=(y0-y5)*v/500;el(bg,'rect',{x:x0+i*step,y:y0-h,width:step*0.82,height:h,fill:tcol[Math.floor(i/10)]});});
for(let t=0;t<5;t++){const cx=x0+(t*10+4.5)*step;el(bg,'text',{x:cx,y:857,'text-anchor':'middle','font-family':'Liberation Sans,sans-serif','font-size':22},'Task'+t);el(bg,'line',{x1:cx,y1:831,x2:cx,y2:837,stroke:'#333'});}}
bars(219,8.55,831,507,ord);bars(766,8.48,831,502,shf);
const tb=G('tbl');const cols=[3979,4059,4140,4220,4300,4380,4460,4541,4622,4703,4782,4863];
function tt(x,y,s,a){return el(tb,'text',Object.assign({x:x,y:y,'text-anchor':'middle'},a||{}),s);}
function rule(y,x1,x2,w){el(tb,'line',{x1:x1||3666,y1:y,x2:x2||4897,y2:y,stroke:'#000','stroke-width':w||2.5});}
rule(871);rule(925,3952,4897,2);rule(980);rule(1013);rule(1092);rule(1239);rule(1341);rule(1374);
tt(4431,894,'Shuffled LT-CIL');tt(4181,916,'CIFAR100');tt(4659,916,'ImageNet-Subset');tt(3733,929,'Methods');tt(3878,929,'Memory Size');
const rh=[4020,4181,4343,4504,4666,4821],rv=['0.01','0.05','0.1','0.01','0.05','0.1'];
rh.forEach((x,i)=>{const e=tt(x,950,'');el(e,'tspan',{'font-style':'italic'},'ρ');el(e,'tspan',{},' = '+rv[i]);});
cols.forEach((x,i)=>tt(x,971,i%2?'10 tasks':'5 tasks',{'font-size':18}));
el(tb,'line',{x1:4425,y1:935,x2:4425,y2:1368,stroke:'#000','stroke-width':2});
const rows=[['Baseline','11.3 7.3 13.6 8.1 13.9 8.2 12.9 11.2 15.3 13.1 16.7 12.7',1004],
['LDAM[4]','11.5 11.4 15.2 14.3 19.8 18.2 15.4 15.2 19.4 19.0 22.6 22.1',1037],['BalPoE[1]','18.9 17.6 20.5 20.0 26.1 25.4 17.8 17.3 22.6 21.4 25.3 24.3',1059],['MDCS[47]','18.2 16.3 19.5 19.1 24.3 23.7 16.9 16.2 22.4 21.4 25.6 24.1',1082],
['EWC[18]','28.7 25.3 33.1 31.9 40.6 39.7 30.8 30.4 35.6 34.7 43.8 43.6',1116],['LwF[21]','29.3 25.1 34.3 33.5 41.2 41.0 31.6 31.0 36.1 35.4 44.4 43.9',1138],['SDC[44]','32.7 29.6 35.2 34.1 42.9 42.3 33.9 33.4 39.4 38.1 45.9 45.1',1161],['PASS[49]','33.6 31.8 37.9 35.5 43.2 42.1 34.2 33.8 39.9 38.5 46.2 45.7',1184],['IL2A[48]','35.1 36.2 43.9 39.4 50.2 49.3 40.5 39.2 44.2 43.7 53.4 52.7',1207],['SAVC[34]','34.4 32.3 38.3 35.9 43.1 42.0 35.3 34.9 40.1 39.6 48.3 47.6',1229],
['iCaRL[29]','31.5 30.5 40.2 39.1 46.5 45.9 35.4 34.6 42 41.3 48.2 47.4',1263],['TwF[3]','34.2 33.8 42.3 42.1 49.3 48.7 38.6 38.1 43.6 43.3 52.2 51.7',1285],['SCoMMER[31]','35 35.2 43.4 42.3 49.9 49.1 39.3 38.9 44.9 44.1 52.9 52.6',1308],['LUCIR+LWS[22]','37.2 36.9 45.2 45.0 51.9 51.2 43.1 42.3 47.3 47.1 54.7 54.1',1331],
['Ours','40.2 39.4 47.3 47.0 53.6 53.1 45.3 44.8 49.2 48.9 56.2 55.4',1364]];
rows.forEach(r=>{const b=r[0]==='Ours'?{'font-weight':'bold'}:{};tt(3733,r[2],r[0],b);r[1].split(' ').forEach((v,i)=>tt(cols[i],r[2],v,b));});
tt(3878,1004,'0');tt(3878,1059,'0');tt(3878,1172,'0');tt(3878,1297,'1000');tt(3878,1364,'0',{'font-weight':'bold'});
const hm=G('heat');
function heat(x0,vals,cb,ticks,labels){const cw=65,ch=65,y0=1511;vals.forEach((row,i)=>row.forEach((c,j)=>{el(hm,'rect',{x:x0+j*cw,y:y0+i*ch,width:cw,height:ch,fill:c[1]});el(hm,'text',{x:x0+j*cw+cw/2,y:y0+i*ch+ch/2+8,'text-anchor':'middle','font-family':'Liberation Sans,sans-serif','font-size':22,fill:c[2]?'#fff':'#222'},c[0]);}));
el(hm,'rect',{x:cb,y:1511,width:18,height:390,fill:'url(#cbA)'});
ticks.forEach(t=>{el(hm,'line',{x1:cb+18,y1:t[1],x2:cb+24,y2:t[1],stroke:'#333'});el(hm,'text',{x:cb+28,y:t[1]+7,'font-family':'Liberation Sans,sans-serif','font-size':18,fill:'#333'},t[0]);});
const nm=['Taks0','Taks1','Taks2','Taks3','Taks4','Task5'];
nm.forEach((n,i)=>{el(hm,'text',{x:x0+i*cw+cw/2,y:1925,'text-anchor':'middle','font-family':'Liberation Sans,sans-serif','font-size':18,fill:'#333'},n);const yy=y0+i*ch+ch/2;el(hm,'text',{x:x0-18,y:yy,'text-anchor':'middle','font-family':'Liberation Sans,sans-serif','font-size':18,fill:'#333',transform:`rotate(-90 ${x0-18} ${yy})`},n);});
el(hm,'text',{x:labels[0],y:1962,'text-anchor':'middle','font-family':'Liberation Serif,serif','font-size':30,'font-weight':'bold'},labels[1]);}
const D='#004529',W=1;
heat(3745,[[['1',D,W]],[['0.7','#68bd70',W],['1',D,W]],[['0.52','#d0ec9e'],['0.76','#3fa85b',W],['1',D,W]],[['0.46','#e9f6ae'],['0.69','#70c274'],['0.67','#78c679'],['1',D,W]],[['0.38','#fbfdd0'],['0.61','#9fd68a'],['0.66','#7cc87b'],['0.79','#309550',W],['1',D,W]],[['0.34','#ffffe5'],['0.46','#e9f6ae'],['0.55','#c2e699'],['0.75','#43ac5e',W],['0.78','#399d55',W],['1',D,W]]],4162,[['1.0',1511],['0.9',1570],['0.8',1629],['0.7',1688],['0.6',1748],['0.5',1807],['0.4',1866]],[3925,'a)']);
heat(4350,[[['1',D,W]],[['0.83','#2d8e4a',W],['1',D,W]],[['0.65','#9fd68a'],['0.9','#0b6e3a',W],['1',D,W]],[['0.57','#d3eda0'],['0.74','#62b96e',W],['0.85','#238443',W],['1',D,W]],[['0.47','#f9fcc8'],['0.64','#a5d88b'],['0.73','#6abf71',W],['0.99','#00482a',W],['1',D,W]],[['0.41','#ffffe5'],['0.58','#cde99c'],['0.62','#b3df90'],['0.98','#004a2b',W],['1',D,W],['1',D,W]]],4768,[['1.0',1511],['0.9',1577],['0.8',1644],['0.7',1711],['0.6',1777],['0.5',1844]],[4555,'b)']);
const fq=G('freq');
function fchart(x0,x1,title,vals,xmin,xmax,ticks,xl,lab,lx){const y0=2408,y1=2072;el(fq,'rect',{x:x0,y:y1,width:x1-x0,height:y0-y1,fill:'#fff',stroke:'#555','stroke-width':1.5});
for(let k=1;k<=4;k++){const y=y0-(y0-y1)*k/5;el(fq,'line',{x1:x0,y1:y,x2:x1,y2:y,stroke:'#bbb','stroke-dasharray':'4,4'});}
for(let k=0;k<=5;k++){const y=y0-(y0-y1)*k/5;el(fq,'text',{x:x0-5,y:y+4,'text-anchor':'end','font-family':'Liberation Sans,sans-serif','font-size':11},(k/5).toFixed(1));}
const ax=xmin,bx=xmax;const w=(bx-ax)/vals.length;
vals.forEach((v,i)=>{const h=(y0-y1)*v;el(fq,'rect',{x:ax+(i-0.4)*w,y:y0-h,width:w*0.8,height:h,fill:'#7bafd4',stroke:'#333','stroke-width':1});});
ticks.forEach(t=>{const x=ax+(bx-ax)*t/(lab==='Label'?50:100);el(fq,'text',{x:x,y:y0+18,'text-anchor':'middle','font-family':'Liberation Sans,sans-serif','font-size':12},t);});
el(fq,'text',{x:(x0+x1)/2,y:2066,'text-anchor':'middle','font-family':'Liberation Sans,sans-serif','font-size':18},title);
el(fq,'text',{x:(x0+x1)/2,y:2440,'text-anchor':'middle','font-family':'Liberation Sans,sans-serif','font-size':18},lab);
el(fq,'text',{x:x0-28,y:2240,'text-anchor':'middle','font-family':'Liberation Sans,sans-serif','font-size':16,transform:`rotate(-90 ${x0-28} 2240)`},'Frequency');
el(fq,'text',{x:lx,y:2475,'text-anchor':'middle','font-family':'Liberation Serif,serif','font-size':30},xl);}
const fa1=[0.04,0.07,0.03,0.72,0.36,0.02,0.015,0.05,0.03,0.03,0.16,0.015,0.91,0.015,0.08,0.69,0.31,0.03,0.14,0.18,0.07,0.04,0.03,1.0,0.02,0.43,0.47,0.1,0.28,0.09,0.57,0.02,0.13,0.02,0.79,0.07,0.02,0.5,0.52,0.13,0.015,0.155,0.035,0.06,0.025,0.09,0.41,0.66,0.25,0.085];
const fb=[];seed=3;for(let i=0;i<100;i++)fb.push(0.2+rnd()*0.18);
Object.assign(fb,{9:0.4,12:0.52,13:0.67,14:0.38,15:0.12,22:0.02,23:0.02,24:0.02,27:0.53,38:0.64,43:0.70,51:0.61,57:0.64,65:0.01,86:0.45,87:0.11,90:1.0,92:0.87,93:0.82,99:0.40});
fchart(3699,4264,'Task0 Data Distribution',fa1,3729,4244,[0,10,20,30,40,50],'a)','Label',3973);
fchart(4314,4879,'Task0 basis vectors Distribution',fb,4342,4855,[0,20,40,60,80,100],'b)','Index',4600);
</script>
</body></html>
